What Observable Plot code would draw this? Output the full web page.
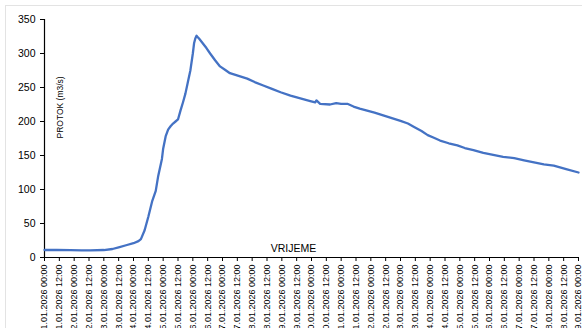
<!DOCTYPE html>
<html>
<head>
<meta charset="utf-8">
<script src="https://cdn.jsdelivr.net/npm/d3@7"></script>
<script src="https://cdn.jsdelivr.net/npm/@observablehq/plot@0.6"></script>
<style>
  html, body { margin: 0; padding: 0; background: #fff; overflow: hidden; }
  #wrap { position: relative; width: 582px; height: 328px; overflow: hidden; }
  #border { position: absolute; left: 5px; top: 5px; width: 600px; height: 400px; border: 1.5px solid #e3e3e3; box-sizing: border-box; }
  #chart { position: absolute; left: 0; top: 0; }
</style>
</head>
<body>
<div id="wrap"><div id="border"></div><div id="chart"></div></div>
<script>
// Hours since 01.01.2026 00:00 and flow (m3/s)
const hours = [0, 10, 21, 30, 37, 48, 55, 60, 66, 72, 76, 78, 81, 84, 87, 90, 92, 95, 96, 98, 100, 102, 104, 106, 108, 110, 112, 114, 116, 118, 120, 121, 122, 123, 124, 125, 128, 131, 134, 138, 142, 146, 150, 157, 164, 170, 177, 184, 191, 199, 207, 215, 219, 220, 223, 231, 236, 240, 245, 250, 255, 261, 267, 274, 281, 288, 294, 299, 305, 310, 315, 320, 327, 334, 340, 347, 355, 363, 371, 380, 388, 396, 404, 412, 422, 432];
const flow  = [11, 11, 10.8, 10.5, 10.5, 11, 12.5, 15, 18, 21, 24, 27, 40, 60, 82, 98, 120, 145, 160, 178, 188, 193, 197, 200, 203, 216, 228, 241, 258, 275, 300, 315, 322, 326, 324, 322, 315, 308, 300, 290, 281, 276, 271, 267, 263, 258, 253, 248, 243, 238, 234, 230, 228, 231, 226, 225, 227, 226, 226, 222, 219, 216, 213, 209, 205, 201, 197, 192, 186, 180, 176, 172, 168, 165, 161, 158, 154, 151, 148, 146, 143, 140, 137, 135, 130, 125];
const yTicks = [0, 50, 100, 150, 200, 250, 300, 350];
const startDate = new Date(Date.UTC(2026, 0, 1));
const endDate = new Date(Date.UTC(2026, 0, 19));
const xTicks = d3.utcHour.every(12).range(startDate, new Date(+endDate + 1));
const xTitle = "VRIJEME";
const yTitle = "PROTOK (m3/s)";

const data = hours.map((h, i) => ({t: new Date(+startDate + h * 3600e3), q: flow[i]}));
const fmt = d3.utcFormat("%d.%m.%Y %H:%M");

const chart = Plot.plot({
  width: 582,
  height: 328,
  marginLeft: 44,
  marginRight: 4,
  marginTop: 19,
  marginBottom: 71,
  style: {fontFamily: "Liberation Sans, Arial, sans-serif", color: "#000", background: "transparent", overflow: "visible"},
  x: {type: "utc", domain: [startDate, endDate]},
  y: {domain: [0, 350]},
  marks: [
    Plot.axisY({ticks: yTicks, tickSize: 4, tickPadding: 5, fontSize: 10.5, label: null, stroke: "#000"}),
    Plot.axisX({ticks: xTicks, tickSize: 4, tickPadding: 3, tickRotate: -90, fontSize: 9, tickFormat: fmt, label: null, stroke: "#000"}),
    Plot.ruleY([0], {stroke: "#000", strokeWidth: 1.2}),
    Plot.ruleX([startDate], {stroke: "#000", strokeWidth: 1.2}),
    Plot.line(data, {x: "t", y: "q", stroke: "#4472C4", strokeWidth: 2.3}),
    Plot.text([xTitle], {frameAnchor: "bottom", dx: -18, dy: -6, lineAnchor: "bottom", fontSize: 10.5, fill: "#000", text: d => d}),
    Plot.text([yTitle], {frameAnchor: "left", dx: 16, rotate: -90, fontSize: 8.5, fill: "#000", text: d => d})
  ]
});
document.getElementById("chart").appendChild(chart);
</script>
</body>
</html>
